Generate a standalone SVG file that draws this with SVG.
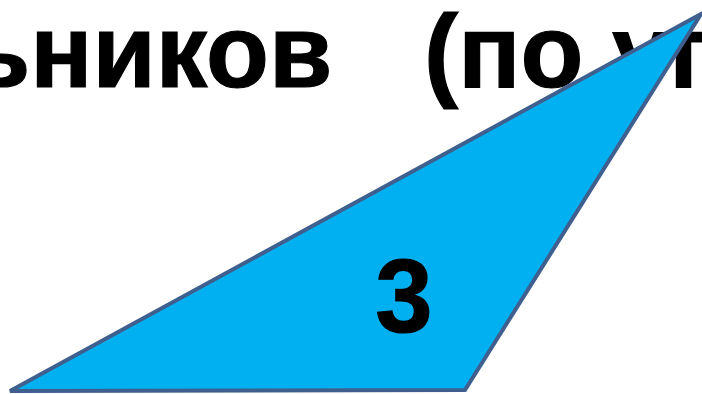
<svg xmlns="http://www.w3.org/2000/svg" width="702" height="394" viewBox="0 0 702 394">
<style>
.t{font-family:"Liberation Sans",Arial,sans-serif;font-weight:bold;font-size:103px;fill:#000;stroke:#000;stroke-width:1.2}
</style>
<rect width="702" height="394" fill="#fff"/>
<g id="title">
<text class="t" x="-33" y="87">ьников</text>
<text class="t" x="424" y="87">(по уг</text>
</g>
<g id="triangle">
<polygon points="701,14 10,391 465,390" fill="#00b0f0" stroke="#3f5f8e" stroke-width="4" stroke-linejoin="miter"/>
<text class="t" x="404" y="332" text-anchor="middle">3</text>
</g>
</svg>
